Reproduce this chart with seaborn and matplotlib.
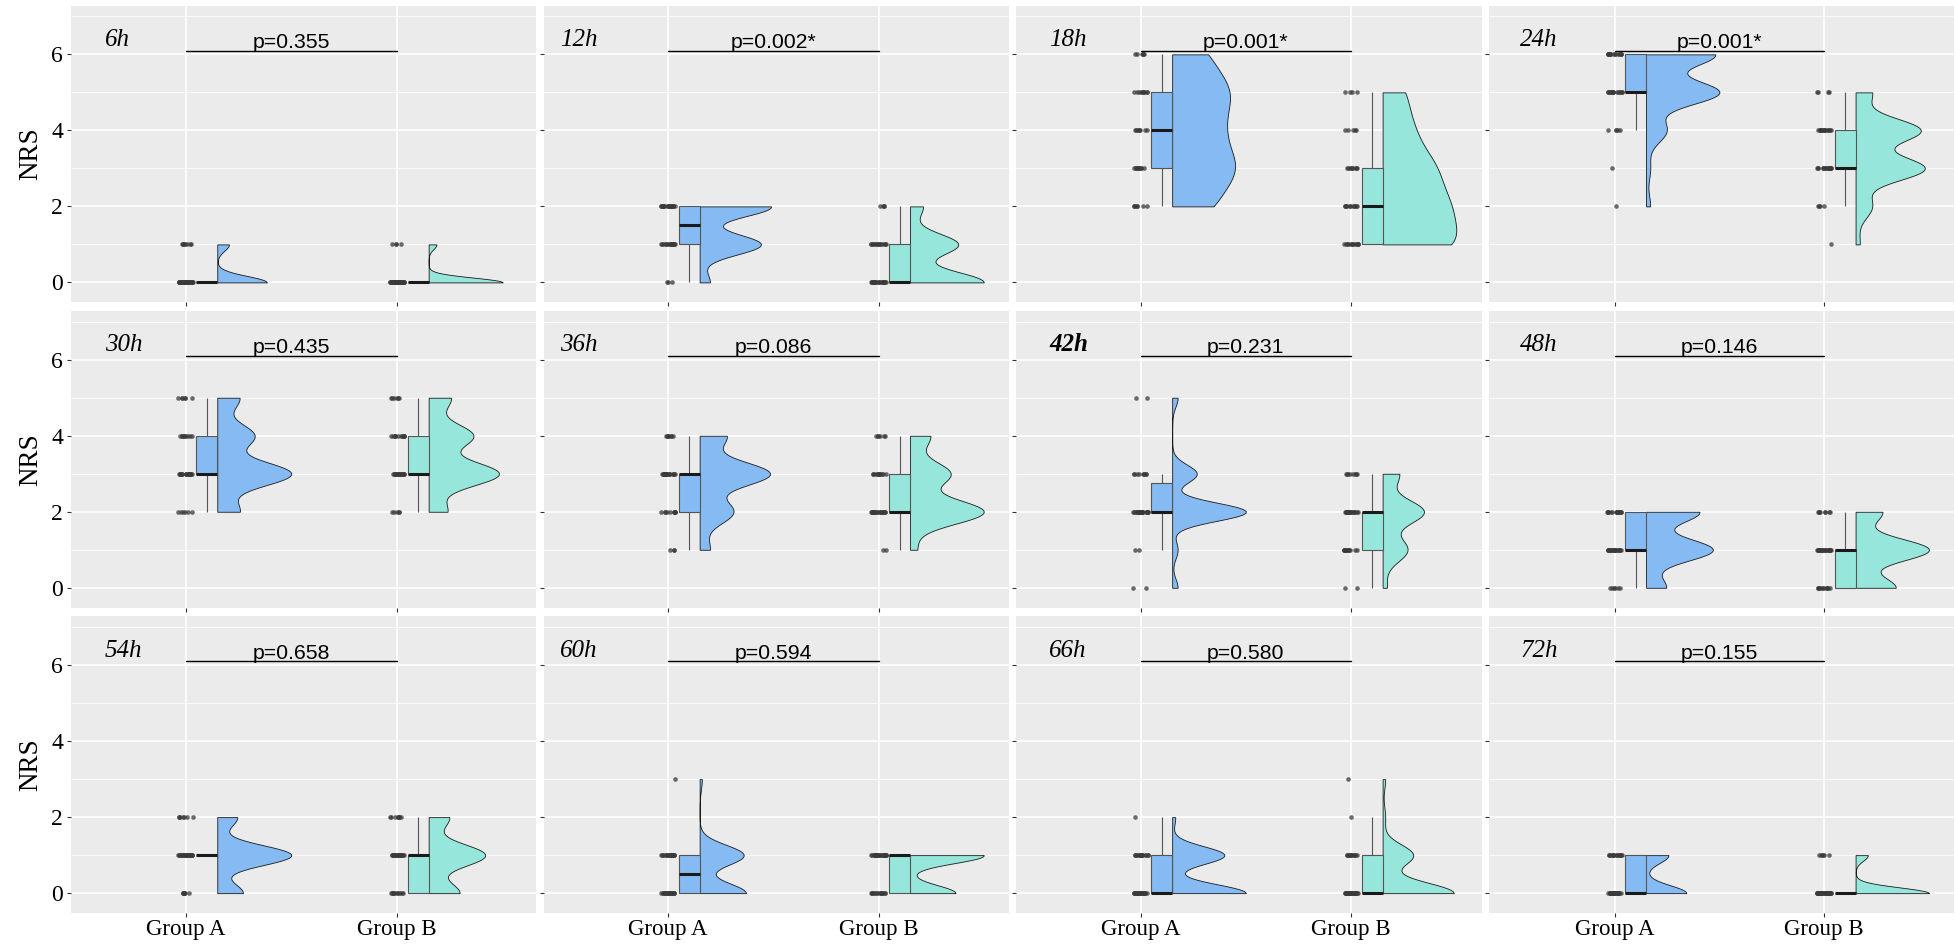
import numpy as np
import pandas as pd
import matplotlib
matplotlib.use("Agg")
import matplotlib.pyplot as plt
import matplotlib.transforms as mtransforms
from matplotlib.ticker import MultipleLocator
import seaborn as sns

# ----- Data -----
# number of patients at each NRS score (0..6), one row per time point
scores = [0, 1, 2, 3, 4, 5, 6]
times = ["6h", "12h", "18h", "24h", "30h", "36h", "42h", "48h", "54h", "60h", "66h", "72h"]
p_labels = ["p=0.355", "p=0.002*", "p=0.001*", "p=0.001*", "p=0.435", "p=0.086",
            "p=0.231", "p=0.146", "p=0.658", "p=0.594", "p=0.580", "p=0.155"]
groups = ["Group A", "Group B"]

counts_a = [
    [34, 8, 0, 0, 0, 0, 0],    # 6h
    [3, 18, 21, 0, 0, 0, 0],   # 12h
    [0, 0, 7, 11, 8, 10, 6],   # 18h
    [0, 0, 1, 1, 5, 18, 17],   # 24h
    [0, 0, 6, 20, 10, 6, 0],   # 30h
    [0, 3, 10, 21, 8, 0, 0],   # 36h
    [2, 2, 27, 9, 0, 2, 0],    # 42h
    [6, 20, 16, 0, 0, 0, 0],   # 48h
    [9, 26, 7, 0, 0, 0, 0],    # 54h
    [21, 20, 0, 1, 0, 0, 0],   # 60h
    [24, 17, 1, 0, 0, 0, 0],   # 66h
    [27, 15, 0, 0, 0, 0, 0],   # 72h
]
counts_b = [
    [38, 4, 0, 0, 0, 0, 0],    # 6h
    [23, 15, 4, 0, 0, 0, 0],   # 12h
    [0, 13, 11, 9, 5, 4, 0],   # 18h
    [0, 1, 4, 17, 16, 4, 0],   # 24h
    [0, 0, 5, 19, 12, 6, 0],   # 30h
    [0, 2, 22, 12, 6, 0, 0],   # 36h
    [2, 12, 20, 8, 0, 0, 0],   # 42h
    [12, 22, 8, 0, 0, 0, 0],   # 48h
    [12, 22, 8, 0, 0, 0, 0],   # 54h
    [16, 26, 0, 0, 0, 0, 0],   # 60h
    [28, 12, 1, 1, 0, 0, 0],   # 66h
    [36, 6, 0, 0, 0, 0, 0],    # 72h
]

colors = {"Group A": "#85BBF2", "Group B": "#97E6DB"}
group_pos = {"Group A": 1, "Group B": 2}


def nrd0(kde):
    # R's default bandwidth (bw.nrd0), as a factor of the sd
    x = kde.dataset[0]
    sd = x.std(ddof=1)
    q75, q25 = np.percentile(x, [75, 25])
    lo = min(sd, (q75 - q25) / 1.34)
    if lo == 0:
        lo = sd
    return 0.9 * lo * len(x) ** -0.2 / sd


sns.set_theme(style="darkgrid", rc={
    "axes.facecolor": "#EBEBEB",
    "grid.color": "white",
    "xtick.bottom": True,
    "ytick.left": True,
    "xtick.major.size": 3,
    "ytick.major.size": 3,
    "xtick.major.width": 0.8,
    "ytick.major.width": 0.8,
    "xtick.color": "#333333",
    "ytick.color": "#333333",
})
plt.rcParams["font.family"] = ["Liberation Serif", "DejaVu Serif"]
np.random.seed(7)

fig = plt.figure(figsize=(19.56, 9.48), dpi=100)
axes = fig.subplots(3, 4)
fig.subplots_adjust(left=0.0365, right=0.999, top=0.994, bottom=0.037,
                    wspace=0.016, hspace=0.03)

label_x = [0.072, 0.035, 0.07, 0.067]
xlims = [(0.46, 2.66), (0.41, 2.62), (0.41, 2.62), (0.40, 2.62)]

for i, t in enumerate(times):
    ax = axes[i // 4, i % 4]
    col = i % 4
    row = i // 4

    df = pd.DataFrame({
        "group": np.repeat(groups, [sum(counts_a[i]), sum(counts_b[i])]),
        "score": np.concatenate([np.repeat(scores, counts_a[i]),
                                 np.repeat(scores, counts_b[i])]),
    })
    df["pos"] = df["group"].map(group_pos)
    df["pos_violin"] = df["pos"] + 0.15
    df["pos_box"] = df["pos"] + 0.1

    # half violins
    n0 = len(ax.collections)
    sns.violinplot(data=df, x="pos_violin", y="score", hue="group", palette=colors,
                   native_scale=True, orient="x", dodge=False, inner=None, cut=0,
                   width=0.7, density_norm="area", common_norm=True, bw_method=nrd0,
                   linewidth=0.6, linecolor="#1a1a1a", saturation=1, legend=False, ax=ax)
    for coll in ax.collections[n0:]:
        for path in coll.get_paths():
            v = path.vertices
            mid = (v[:, 0].min() + v[:, 0].max()) / 2
            v[:, 0] = np.maximum(v[:, 0], mid)

    # boxes
    sns.boxplot(data=df, x="pos_box", y="score", hue="group", palette=colors,
                native_scale=True, orient="x", dodge=False, width=0.1, whis=1.5,
                showfliers=False, saturation=1, linecolor="#555555", linewidth=0.8,
                medianprops={"color": "#1a1a1a", "linewidth": 2.2},
                capprops={"linewidth": 0}, legend=False, ax=ax)

    # raw points
    sns.stripplot(data=df, x="pos", y="score", native_scale=True, orient="x",
                  jitter=0.035, color="#3a3a3a", size=3.3, alpha=0.75, linewidth=0, ax=ax)

    ax.set_xlim(*xlims[col])
    ax.set_ylim(-0.52, 7.28)
    ax.set_xticks([1, 2])
    ax.set_yticks([0, 2, 4, 6])
    ax.yaxis.set_minor_locator(MultipleLocator(1))
    ax.tick_params(which="minor", length=0)
    ax.grid(which="major", color="white", linewidth=1.2)
    ax.grid(which="minor", axis="y", color="white", linewidth=0.6)
    ax.set_axisbelow(True)
    for s in ax.spines.values():
        s.set_visible(False)
    ax.set_xlabel("")
    ax.set_ylabel("")

    if row == 2:
        ax.set_xticklabels(groups, fontsize=16.5, color="black")
    else:
        ax.set_xticklabels([])
    if col == 0:
        ax.set_yticklabels(["0", "2", "4", "6"], fontsize=17, color="black")
        ax.set_ylabel("NRS", fontsize=19.5, color="black", labelpad=6)
    else:
        ax.set_yticklabels([])
    ax.tick_params(axis="x", pad=1.5)
    ax.tick_params(axis="y", pad=3)

    # p-value bracket
    ax.plot([group_pos["Group A"], group_pos["Group B"]], [6.1, 6.1], color="black", lw=1.0)
    ax.text(1.5, 6.17, p_labels[i], ha="center", va="baseline", fontsize=15.3,
            family=["Liberation Sans", "DejaVu Sans"], color="black")

    # time label
    trans = mtransforms.blended_transform_factory(ax.transAxes, ax.transData)
    ax.text(label_x[col], 6.22, t, transform=trans, ha="left", va="baseline",
            fontsize=18, style="italic", weight="bold" if t == "42h" else "normal",
            color="black")

fig.savefig("out.png", dpi=100)
